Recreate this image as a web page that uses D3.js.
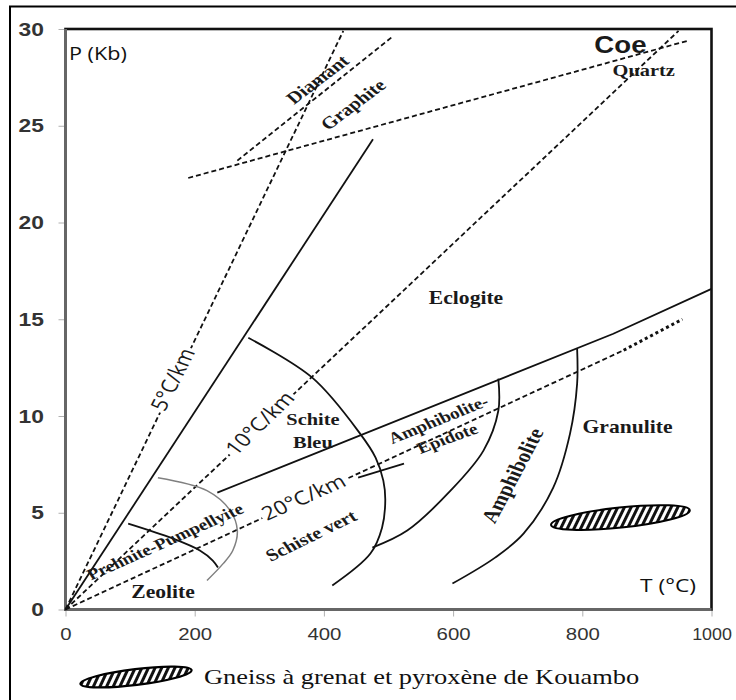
<!DOCTYPE html>
<html lang="fr">
<head>
<meta charset="utf-8">
<title>Faciès métamorphiques P-T</title>
<script src="https://d3js.org/d3.v7.min.js"></script>
<style>
  body { margin: 0; background: #fff; }
  svg { display: block; }
  .dash { fill: none; stroke: #111; stroke-width: 1.8; stroke-dasharray: 5,3; }
  .dots { fill: none; stroke: #111; stroke-width: 3; stroke-dasharray: 3,3; }
  .solid { fill: none; stroke: #111; stroke-width: 1.8; }
  .grey { fill: none; stroke: #808080; stroke-width: 1.5; }
  .tick line { stroke: #b0b0b0; }
  .tick text { fill: #333; font-family: "Liberation Sans", Arial, sans-serif; }
</style>
</head>
<body>
<div id="chart"></div>
<script>
// valeurs : T en °C, P en kbar
const xTicks = [0, 200, 400, 600, 800, 1000];
const yTicks = [0, 5, 10, 15, 20, 25, 30];

// gradients géothermiques (tiretés depuis l'origine)
const grad5 = [[0, 0], [430, 29.9]];
const grad10 = [[0, 0], [949, 29.9]];
const grad20 = [[0, 0], [864, 13.4]];
const grad20Dots = [[864, 13.4], [955, 15.0]];

// réactions minérales
const diamantGraphite = [[266, 23.2], [506, 29.6]];
const coeQuartz = [[190, 22.3], [964, 29.4]];

// limites des faciès (traits pleins)
const blueLimit = [[0, 0], [476, 24.3]];
const blueArc = [[283, 14.04], [382, 11.98], [456, 9.09], [480, 7.85], [492, 6.66], [495, 5.63], [490, 4.23], [472, 2.89], [413, 1.24]];
const amphUpper = [[235, 6.04], [848, 14.25], [1000, 16.57]];
const shortSeg = [[453, 6.81], [524, 7.54]];
const amphEpLimit = [[670, 11.93], [670, 10.27], [647, 8.21], [596, 6.14], [529, 4.08], [475, 3.20]];
const granLimit = [[792, 13.47], [792, 11.67], [781, 9.09], [755, 6.30], [709, 3.92], [665, 2.68], [599, 1.34]];
const prehLimit = [[97, 4.44], [166, 3.67], [208, 3.05], [228, 2.53], [236, 2.17]];
const zeoLimit = [[143, 6.81], [219, 6.14], [255, 5.11], [266, 4.08], [259, 3.05], [244, 2.37], [219, 1.50]];

// gneiss de Kouambo : centre (T, P) et demi-axes (T, P)
const gneissCenter = [859, 4.75];
const gneissHalf = [108, 0.52];

// étiquettes : texte, T, P, angle visible
const gradLabels = [["5°C/km", 165, 11.9, -63], ["10°C/km", 300, 9.65, -44], ["20°C/km", 368, 5.83, -24]];
const mineralLabels = [["Diamant", 390, 27.4, -37], ["Graphite", 445, 26.1, -37], ["Quartz", 895, 27.9, 0]];
const faciesLabels = [
  ["Eclogite", 620, 16.1, 0], ["Schite", 383, 9.86, 0], ["Bleu", 383, 8.67, 0],
  ["Granulite", 870, 9.45, 0], ["Zeolite", 151, 0.93, 0], ["Schiste vert", 380, 3.82, -26],
  ["Amphibolite-", 577, 9.81, -22], ["Epidote", 591, 8.85, -20], ["Amphibolite", 692, 6.92, -62],
  ["Prehnite-Pumpellyite", 154, 3.51, -24]
];
const coeLabel = ["Coe", 859, 29.2, 0];
const legendText = "Gneiss à grenat et pyroxène de Kouambo";

const W = 736, H = 700, S = 1.2; // S : étirement horizontal du texte
const x = d3.scaleLinear().domain([0, 1000]).range([65.5, 711.5]);
const y = d3.scaleLinear().domain([0, 30]).range([609.5, 29]);

const svg = d3.select("#chart").append("svg").attr("width", W).attr("height", H);

const defs = svg.append("defs");
const pat = defs.append("pattern").attr("id", "hatch")
    .attr("patternUnits", "userSpaceOnUse").attr("width", 6).attr("height", 6)
    .attr("patternTransform", "rotate(32)");
pat.append("rect").attr("width", 6).attr("height", 6).attr("fill", "#fff");
pat.append("rect").attr("width", 3).attr("height", 6).attr("fill", "#111");

// cadre extérieur
svg.append("rect").attr("x", 10).attr("y", 6.5).attr("width", 760).attr("height", 720)
    .attr("fill", "none").attr("stroke", "#000").attr("stroke-width", 2);

// axes
const yAxis = svg.append("g").attr("transform", `translate(${x(0)},0)`)
    .call(d3.axisLeft(y).tickValues(yTicks).tickSize(7).tickPadding(11));
yAxis.select(".domain").remove();
yAxis.selectAll(".tick text").attr("font-size", 19).attr("font-weight", "bold")
    .attr("transform", `scale(${S},1)`);

const xAxis = svg.append("g").attr("transform", `translate(0,${y(0)})`)
    .call(d3.axisBottom(x).tickValues(xTicks).tickFormat(d3.format("d")).tickSize(7).tickPadding(11));
xAxis.select(".domain").remove();
xAxis.selectAll(".tick text").attr("font-size", 17)
    .attr("transform", d => d === 1000 ? "scale(1.05,1)" : `scale(${S},1)`);

svg.append("rect").attr("x", x(0)).attr("y", y(30))
    .attr("width", x(1000) - x(0)).attr("height", y(0) - y(30))
    .attr("fill", "none").attr("stroke", "#111").attr("stroke-width", 2.6);
svg.append("line").attr("x1", x(0)).attr("x2", x(0)).attr("y1", y(30)).attr("y2", y(0))
    .attr("stroke", "#666").attr("stroke-width", 3);
svg.append("line").attr("x1", x(0)).attr("x2", x(1000)).attr("y1", y(0)).attr("y2", y(0))
    .attr("stroke", "#666").attr("stroke-width", 3);

const line = d3.line().x(d => x(d[0])).y(d => y(d[1]));
const curve = d3.line().x(d => x(d[0])).y(d => y(d[1])).curve(d3.curveCatmullRom);

const plot = svg.append("g");
[grad5, grad10, grad20, diamantGraphite, coeQuartz].forEach(p =>
    plot.append("path").attr("class", "dash").attr("d", line(p)));
plot.append("path").attr("class", "dots").attr("d", line(grad20Dots));
[blueLimit, amphUpper, shortSeg].forEach(p =>
    plot.append("path").attr("class", "solid").attr("d", line(p)));
[blueArc, amphEpLimit, granLimit, prehLimit].forEach(p =>
    plot.append("path").attr("class", "solid").attr("d", curve(p)));
plot.append("path").attr("class", "grey").attr("d", curve(zeoLimit));

// ellipse hachurée
const ecx = x(gneissCenter[0]), ecy = y(gneissCenter[1]);
plot.append("ellipse").attr("cx", ecx).attr("cy", ecy)
    .attr("rx", x(gneissCenter[0] + gneissHalf[0]) - ecx)
    .attr("ry", ecy - y(gneissCenter[1] + gneissHalf[1]))
    .attr("transform", `rotate(-6,${ecx},${ecy})`)
    .attr("fill", "url(#hatch)").attr("stroke", "#000").attr("stroke-width", 2);

function putLabel(d, family, size, weight, knockout) {
    const a = Math.atan(S * Math.tan(d[3] * Math.PI / 180)) * 180 / Math.PI;
    const tr = `translate(${x(d[1])},${y(d[2])}) scale(${S},1) rotate(${a})`;
    const g = svg.append("g").attr("transform", tr);
    const t = g.append("text")
        .attr("text-anchor", "middle").attr("dominant-baseline", "central")
        .attr("font-family", family).attr("font-size", size).attr("font-weight", weight)
        .attr("fill", "#1a1a1a").text(d[0]);
    if (knockout) {
        const bb = t.node().getBBox();
        g.insert("rect", "text").attr("x", bb.x - 2).attr("y", bb.y + 2)
            .attr("width", bb.width + 4).attr("height", bb.height - 4).attr("fill", "#fff");
    }
}

const serif = "'Liberation Serif', 'Times New Roman', serif";
const sans = "'Open Sans', sans-serif";
const sizes = {
    "Diamant": 17, "Graphite": 17, "Quartz": 17, "Eclogite": 18, "Schite": 17, "Bleu": 17,
    "Granulite": 18, "Zeolite": 18, "Schiste vert": 17, "Amphibolite-": 16, "Epidote": 16,
    "Amphibolite": 19, "Prehnite-Pumpellyite": 16
};
gradLabels.forEach(d => putLabel(d, sans, 19, "normal", true));
mineralLabels.forEach(d => putLabel(d, serif, sizes[d[0]], "bold", false));
faciesLabels.forEach(d => putLabel(d, serif, sizes[d[0]], "bold", false));
putLabel(coeLabel, "'Liberation Sans', Arial, sans-serif", 23, "bold", false);

// titres des axes
svg.append("text").attr("transform", `translate(69,60) scale(${S},1)`)
    .attr("font-family", sans).attr("font-size", 18).attr("fill", "#111").text("P (Kb)");
svg.append("text").attr("transform", `translate(640,592) scale(${S},1)`)
    .attr("font-family", sans).attr("font-size", 19).attr("fill", "#111").text("T (°C)");

// légende
svg.append("ellipse").attr("cx", 136).attr("cy", 677).attr("rx", 56).attr("ry", 8)
    .attr("transform", "rotate(-7,136,677)")
    .attr("fill", "url(#hatch)").attr("stroke", "#000").attr("stroke-width", 2.2);
svg.append("text").attr("transform", `translate(204,684) scale(${S},1)`)
    .attr("font-family", serif).attr("font-size", 22).attr("fill", "#111").text(legendText);
</script>
</body>
</html>
